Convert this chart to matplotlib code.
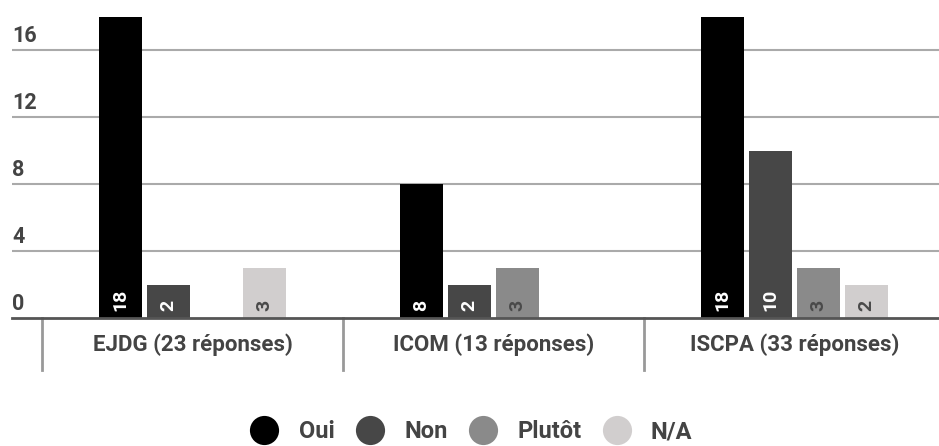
import matplotlib
matplotlib.use("Agg")
import matplotlib.pyplot as plt
import matplotlib.transforms as mtransforms
from matplotlib.lines import Line2D
import numpy as np

plt.rcParams['font.family'] = ['Roboto', 'DejaVu Sans']

categories = ['EJDG (23 réponses)', 'ICOM (13 réponses)', 'ISCPA (33 réponses)']
series = ['Oui', 'Non', 'Plutôt', 'N/A']
oui = [18, 8, 18]
non = [2, 2, 10]
plutot = [0, 3, 3]
na = [3, 0, 2]
yticks = [0, 4, 8, 12, 16]

values = [oui, non, plutot, na]
colors = ['#000000', '#474747', '#8a8a8a', '#d1cece']
text_colors = ['white', 'white', '#4a4a4a', '#4a4a4a']
label_color = '#444444'

fig = plt.figure(figsize=(9.39, 4.46), dpi=100)
ax = fig.add_axes([12 / 939, 1 - 318 / 446, 1 - 12 / 939, 301 / 446])

x = np.arange(len(categories))
step = 0.16
width = 0.143

ax.set_xlim(-0.6, 2.48)
ax.set_ylim(0, 18)

# gridlines
for t in yticks[1:]:
    ax.axhline(t, color='#aaaaaa', lw=1.5, zorder=0)

for i, (vals, c, tc) in enumerate(zip(values, colors, text_colors)):
    pos = x + (i - 1.5) * step
    ax.bar(pos, vals, width=width, color=c, zorder=2)
    for p, v in zip(pos, vals):
        if v > 0:
            ax.annotate(str(v), (p, 0), xytext=(0, 5), textcoords='offset points',
                        rotation=90, ha='center', va='bottom', color=tc,
                        fontsize=14, fontweight='bold', zorder=3)

ax.axhline(0, color='#555555', lw=2, zorder=4, clip_on=False)

# y tick labels above gridlines
trans = mtransforms.blended_transform_factory(ax.transAxes, ax.transData)
for t in yticks:
    ax.annotate(str(t), (0, t), xycoords=trans, xytext=(0, 6), textcoords='offset points',
                ha='left', va='baseline', fontsize=15.5, fontweight='bold', color=label_color)

# category separators and labels
trans_x = mtransforms.blended_transform_factory(ax.transData, ax.transAxes)
for s in np.arange(len(categories) + 1) - 0.5:
    ax.plot([s, s], [0, -0.173], transform=trans_x, color='#999999', lw=2, clip_on=False)
for xi, cat in zip(x, categories):
    ax.text(xi, -0.09, cat, transform=trans_x, ha='center', va='center',
            fontsize=16, fontweight='bold', color=label_color)

ax.set_xticks([])
ax.set_yticks([])
for sp in ax.spines.values():
    sp.set_visible(False)

handles = [Line2D([], [], marker='o', linestyle='none', markersize=21, color=c, markeredgewidth=0)
           for c in colors]
fig.legend(handles, series, loc='center', bbox_to_anchor=(0.5, 1 - 432 / 446), ncol=4,
           frameon=False, prop={'size': 17, 'weight': 'bold'}, labelcolor=label_color,
           handletextpad=0.7, columnspacing=0.75, handlelength=1.5)

fig.savefig('out.png', dpi=100)
